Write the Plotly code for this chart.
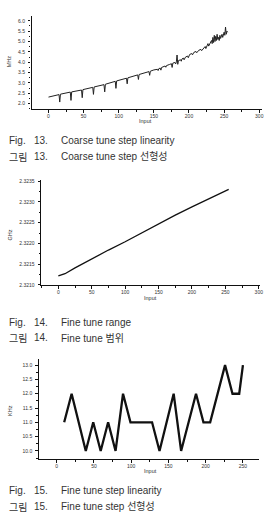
import plotly.graph_objects as go

W, H = 270, 517

# ---- Fig. 13 data: coarse tune step linearity (MHz vs input) ----
coarse_x = [0, 15, 16, 17, 31, 32, 33, 47, 48, 49, 63, 64, 65, 79, 80, 81, 95, 96, 97,
            111, 112, 113, 127, 128, 129, 135, 143, 144, 145, 150, 155, 156, 157, 159, 160, 161,
            166, 167, 168, 172, 175, 176, 177, 180, 181, 182, 183, 184, 185, 188, 189, 190,
            192, 193, 195, 198, 199, 201, 204, 205, 207, 210, 211, 214, 217, 218, 221, 223,
            224, 226, 227, 228, 230, 232, 233, 234, 235, 236, 237, 238, 239, 240, 241, 242,
            243, 244, 245, 247, 248, 250, 251, 252, 253, 254, 255]
coarse_y = [2.32, 2.44, 2.08, 2.46, 2.56, 2.16, 2.57, 2.66, 2.29, 2.68, 2.79, 2.45, 2.81,
            2.92, 2.57, 2.94, 3.08, 2.74, 3.10, 3.23, 2.96, 3.25, 3.39, 3.17, 3.41, 3.47,
            3.55, 3.37, 3.57, 3.63, 3.66, 3.60, 3.69, 3.72, 3.62, 3.75, 3.82, 3.76, 3.84,
            3.89, 3.93, 3.75, 3.96, 3.99, 3.92, 4.02, 4.35, 3.90, 4.08, 4.12, 4.05, 4.16,
            4.20, 4.12, 4.25, 4.30, 4.22, 4.38, 4.42, 4.36, 4.48, 4.52, 4.46, 4.58, 4.62,
            4.56, 4.70, 4.76, 4.66, 4.85, 4.90, 4.78, 4.95, 5.05, 4.90, 5.20, 4.95, 5.30,
            5.00, 5.25, 5.05, 5.35, 5.10, 5.20, 5.05, 5.30, 5.15, 5.35, 5.20, 5.45, 5.30,
            5.70, 5.35, 5.50, 5.45]

# ---- Fig. 14 data: fine tune range (GHz vs input) ----
fine_x = [0, 10, 25, 50, 75, 100, 125, 150, 175, 200, 225, 255]
fine_y = [2.32122, 2.32127, 2.32141, 2.32163, 2.32184, 2.32204, 2.32226, 2.32247,
          2.32268, 2.32288, 2.32308, 2.32330]

# ---- Fig. 15 data: fine tune step linearity (KHz vs input) ----
step_x = [10, 20, 39, 49, 59, 69, 79, 89, 99, 128, 138, 157, 167, 187, 197, 206, 226, 236, 245, 250]
step_y = [11, 12, 10, 11, 10, 11, 10, 12, 11, 11, 10, 12, 10, 12, 11, 11, 13, 12, 12, 13]

# tick labels
t1_x = [0, 50, 100, 150, 200, 250, 300]
t1_y = [2.0, 2.5, 3.0, 3.5, 4.0, 4.5, 5.0, 5.5, 6.0]
t2_x = [0, 50, 100, 150, 200, 250, 300]
t2_y = [2.3210, 2.3215, 2.3220, 2.3225, 2.3230, 2.3235]
t3_x = [0, 50, 100, 150, 200, 250]
t3_y = [10.0, 10.5, 11.0, 11.5, 12.0, 12.5, 13.0]

captions = [
    ("Fig.", "13.", "Coarse tune step linearity", 140),
    ("그림", "13.", "Coarse tune step 선형성", 156),
    ("Fig.", "14.", "Fine tune range", 324),
    ("그림", "14.", "Fine tune 범위", 339),
    ("Fig.", "15.", "Fine tune step linearity", 493),
    ("그림", "15.", "Fine tune step 선형성", 509),
]


def px(x):
    return x / W


def py(y):
    return 1 - y / H


fig = go.Figure()
fig.add_trace(go.Scatter(x=coarse_x, y=coarse_y, mode="lines",
                         line=dict(color="#222", width=1), xaxis="x", yaxis="y"))
fig.add_trace(go.Scatter(x=fine_x, y=fine_y, mode="lines",
                         line=dict(color="#111", width=1.3), xaxis="x2", yaxis="y2"))
fig.add_trace(go.Scatter(x=step_x, y=step_y, mode="lines",
                         line=dict(color="#111", width=2.3), xaxis="x3", yaxis="y3"))

tickfont = dict(family="Liberation Sans, Arial", size=5, color="#333")


def ax(domain, rng, tickvals, ticktext, anchor, minor_dtick, standoff):
    return dict(domain=domain, range=rng, tickvals=tickvals, ticktext=ticktext,
                anchor=anchor, showgrid=False, zeroline=False, showline=True,
                linecolor="#111", linewidth=1.3, ticks="outside", ticklen=2.5,
                tickwidth=1, tickcolor="#111", tickfont=tickfont,
                ticklabelstandoff=standoff,
                minor=dict(ticks="outside", ticklen=1.5, tickcolor="#111",
                           tickwidth=0.8, dtick=minor_dtick, showgrid=False))


fig.update_layout(
    width=W, height=H, margin=dict(l=0, r=0, t=0, b=0),
    paper_bgcolor="white", plot_bgcolor="white", showlegend=False,
    xaxis=ax([px(32), px(265)], [-24, 304], t1_x, [str(v) for v in t1_x], "y", 25, -1),
    yaxis=ax([py(108), py(14)], [1.747, 6.239], t1_y, ["%.1f" % v for v in t1_y], "x", 0.25, 2),
    xaxis2=ax([px(41.7), px(263.3)], [-25.6, 302.4], t2_x, [str(v) for v in t2_x], "y2", 25, -1),
    yaxis2=ax([py(285.7), py(180)], [2.3210, 2.32352], t2_y, ["%.4f" % v for v in t2_y], "x2", 0.00025, 2),
    xaxis3=ax([px(39.3), px(261.7)], [-24, 271.3], t3_x, [str(v) for v in t3_x], "y3", 25, -1),
    yaxis3=ax([py(461.7), py(360)], [9.709, 13.232], t3_y, ["%.1f" % v for v in t3_y], "x3", 0.25, 2),
)

annots = []
labfont = dict(family="Liberation Sans, Arial", size=5.5, color="#333")
for txt, x, y in [("MHz", 10, 60), ("GHz", 10, 235), ("KHz", 10, 412)]:
    annots.append(dict(text=txt, x=px(x), y=py(y), xref="paper", yref="paper",
                       showarrow=False, textangle=-90, font=labfont,
                       xanchor="center", yanchor="middle"))
for x, y in [(147, 120), (152, 299), (152, 474)]:
    annots.append(dict(text="Input", x=px(x), y=py(y), xref="paper", yref="paper",
                       showarrow=False, font=labfont, xanchor="center", yanchor="middle"))

capfont_en = dict(family="Liberation Sans, Arial", size=10, color="#333")
capfont_kr = dict(family="Noto Sans CJK KR", size=10, color="#333")
for lead, num, rest, y in captions:
    f = capfont_kr if lead == "그림" else capfont_en
    annots.append(dict(text=lead, x=px(7), y=py(y), xref="paper", yref="paper",
                       showarrow=False, font=f, xanchor="left", yanchor="middle"))
    annots.append(dict(text=num, x=px(32), y=py(y), xref="paper", yref="paper",
                       showarrow=False, font=capfont_en, xanchor="left", yanchor="middle"))
    annots.append(dict(text=rest, x=px(60), y=py(y), xref="paper", yref="paper",
                       showarrow=False,
                       font=dict(family="Liberation Sans, Noto Sans CJK KR", size=10, color="#333"),
                       xanchor="left", yanchor="middle"))
fig.update_layout(annotations=annots)

fig.write_html("out.html")
